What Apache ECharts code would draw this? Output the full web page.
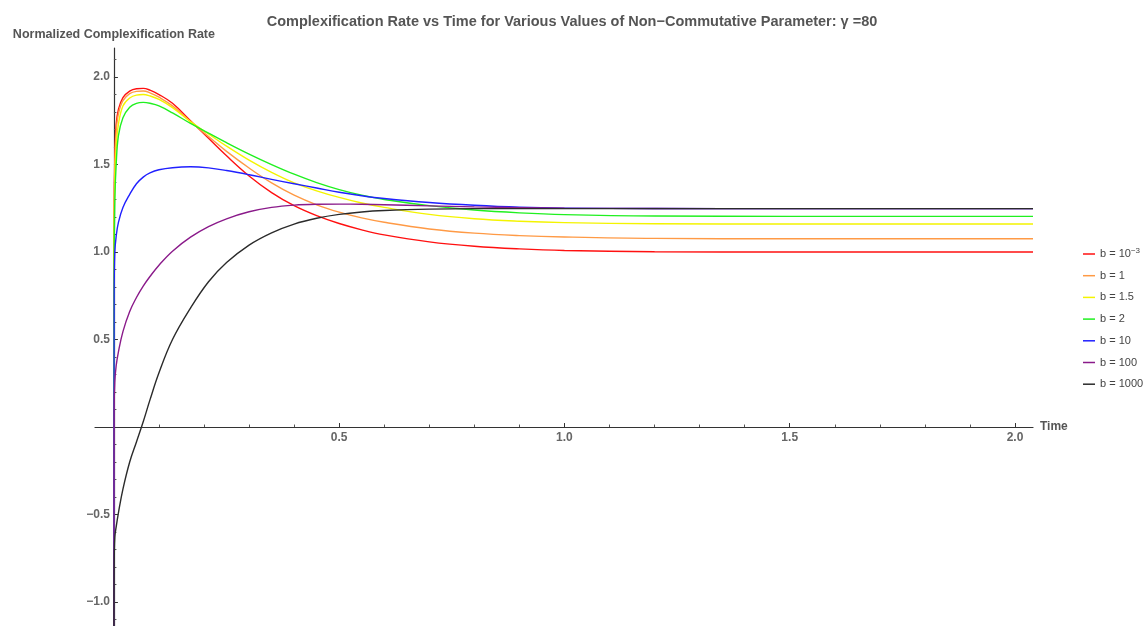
<!DOCTYPE html>
<html>
<head>
<meta charset="utf-8">
<script src="https://cdn.jsdelivr.net/npm/echarts@6/dist/echarts.min.js"></script>
<style>
  html, body { margin: 0; padding: 0; background: #fff; }
  #main { width: 1144px; height: 626px; }
</style>
</head>
<body>
<div id="main"></div>
<script>
// sample times
var times = [0, 0.0005, 0.002, 0.005, 0.01, 0.02, 0.035, 0.05, 0.065, 0.08, 0.1, 0.13, 0.17, 0.21, 0.25,
  0.3, 0.35, 0.4, 0.45, 0.5, 0.55, 0.6, 0.7, 0.8, 0.9, 1.0, 1.2, 1.5, 2.04];

var rateB0001 = [-1.3, 1.2, 1.55, 1.73, 1.815, 1.883, 1.92, 1.933, 1.935, 1.925, 1.9, 1.85, 1.75, 1.65, 1.55,
  1.435, 1.34, 1.265, 1.208, 1.163, 1.127, 1.098, 1.058, 1.033, 1.018, 1.009, 1.002, 1.0, 1.0];
var rateB1 = [-1.3, 1.15, 1.5, 1.69, 1.79, 1.865, 1.905, 1.918, 1.92, 1.91, 1.885, 1.835, 1.745, 1.66, 1.575,
  1.48, 1.395, 1.325, 1.27, 1.228, 1.195, 1.17, 1.132, 1.108, 1.094, 1.086, 1.078, 1.076, 1.076];
var rateB15 = [-1.3, 1.1, 1.42, 1.6, 1.73, 1.835, 1.88, 1.897, 1.9, 1.892, 1.872, 1.825, 1.745, 1.675, 1.605,
  1.525, 1.455, 1.395, 1.35, 1.312, 1.28, 1.255, 1.215, 1.19, 1.176, 1.168, 1.162, 1.16, 1.16];
var rateB2 = [-1.3, 0.95, 1.3, 1.5, 1.665, 1.768, 1.828, 1.85, 1.855, 1.85, 1.835, 1.795, 1.735, 1.68, 1.625,
  1.56, 1.5, 1.445, 1.397, 1.357, 1.325, 1.3, 1.265, 1.24, 1.224, 1.214, 1.206, 1.204, 1.204];
var rateB10 = [-1.3, 0.75, 1.0, 1.09, 1.17, 1.255, 1.33, 1.39, 1.428, 1.452, 1.47, 1.482, 1.487, 1.481, 1.466,
  1.442, 1.415, 1.39, 1.366, 1.342, 1.322, 1.306, 1.283, 1.267, 1.256, 1.251, 1.249, 1.248, 1.248];
var rateB100 = [-1.3, 0.1, 0.26, 0.35, 0.43, 0.545, 0.66, 0.74, 0.805, 0.86, 0.925, 1.005, 1.085, 1.145, 1.19,
  1.23, 1.255, 1.268, 1.273, 1.274, 1.273, 1.27, 1.264, 1.258, 1.254, 1.251, 1.249, 1.248, 1.248];
var rateB1000 = [-1.3, -0.8, -0.63, -0.57, -0.49, -0.355, -0.2, -0.085, 0.03, 0.155, 0.31, 0.5, 0.68, 0.83, 0.94,
  1.04, 1.11, 1.16, 1.193, 1.215, 1.229, 1.237, 1.245, 1.248, 1.248, 1.248, 1.248, 1.248, 1.248];

var seriesNames = ['b = 10^-3', 'b = 1', 'b = 1.5', 'b = 2', 'b = 10', 'b = 100', 'b = 1000'];
var seriesColors = ['#ff1010', '#ff9a45', '#f4f400', '#20f020', '#2020ff', '#8a1a8a', '#2b2b2b'];
var seriesRates = [rateB0001, rateB1, rateB15, rateB2, rateB10, rateB100, rateB1000];

// ticks
var xLabelTicks = [0.5, 1.0, 1.5, 2.0];
var xMinorTicks = [0.1, 0.2, 0.3, 0.4, 0.6, 0.7, 0.8, 0.9, 1.1, 1.2, 1.3, 1.4, 1.6, 1.7, 1.8, 1.9];
var yLabelTicks = [-1.0, -0.5, 0.5, 1.0, 1.5, 2.0];
var yMinorTicks = [-1.1, -0.9, -0.8, -0.7, -0.6, -0.4, -0.3, -0.2, -0.1, 0.1, 0.2, 0.3, 0.4, 0.6, 0.7, 0.8, 0.9,
  1.1, 1.2, 1.3, 1.4, 1.6, 1.7, 1.8, 1.9, 2.1];

var X_MIN = -0.042, X_MAX = 2.04, Y_MIN = -1.137, Y_MAX = 2.166;
var GRID_LEFT = 95, GRID_RIGHT = 111, GRID_TOP = 48, GRID_BOTTOM = 0;
var FONT = 'Liberation Sans, Arial, sans-serif';

// axes cross at the origin: move them into the grid with negative offsets
var plotW = 1144 - GRID_LEFT - GRID_RIGHT, plotH = 626 - GRID_TOP - GRID_BOTTOM;
var yAxisOffset = -(0 - X_MIN) / (X_MAX - X_MIN) * plotW;
var xAxisOffset = -(0 - Y_MIN) / (Y_MAX - Y_MIN) * plotH;

function pairs(xs, ys) {
  var out = [];
  for (var i = 0; i < xs.length; i++) out.push([xs[i], ys[i]]);
  return out;
}

var series = [];
for (var i = 0; i < seriesNames.length; i++) {
  series.push({
    name: seriesNames[i],
    type: 'line',
    data: pairs(times, seriesRates[i]),
    showSymbol: false,
    symbol: 'none',
    smooth: 0.4,
    lineStyle: { color: seriesColors[i], width: 1.4 },
    itemStyle: { color: seriesColors[i] },
    emphasis: { disabled: true },
    animation: false
  });
}

var labelStyle = { color: '#666', fontSize: 12, fontWeight: 'bold', fontFamily: FONT };

var chart = echarts.init(document.getElementById('main'));
chart.setOption({
  animation: false,
  backgroundColor: '#fff',
  title: {
    text: 'Complexification Rate vs Time for Various Values of Non\u2212Commutative Parameter: \u03b3 =80',
    left: 'center',
    top: 9,
    textStyle: { color: '#555', fontSize: 14.5, fontWeight: 'bold', fontFamily: FONT }
  },
  legend: {
    orient: 'vertical',
    left: 1078,
    top: 242,
    icon: 'rect',
    itemWidth: 12,
    itemHeight: 1.5,
    itemGap: 7.7,
    textStyle: {
      color: '#444', fontSize: 11, fontFamily: FONT, lineHeight: 14,
      rich: {
        s: { fontSize: 8, padding: [0, 0, 6, 0], color: '#444', fontFamily: FONT }
      }
    },
    formatter: function (name) {
      if (name === 'b = 10^-3') return 'b = 10{s|\u22123}';
      return name;
    },
    data: seriesNames
  },
  grid: {
    left: GRID_LEFT,
    right: GRID_RIGHT,
    top: GRID_TOP,
    bottom: GRID_BOTTOM,
    outerBoundsMode: 'none'
  },
  xAxis: [{
    type: 'value',
    min: X_MIN,
    max: X_MAX,
    position: 'bottom',
    offset: xAxisOffset,
    name: 'Time',
    nameLocation: 'end',
    nameGap: 7,
    nameTextStyle: { color: '#555', fontSize: 12, fontWeight: 'bold', fontFamily: FONT },
    axisLine: { onZero: false, lineStyle: { color: '#333', width: 1.2 } },
    axisTick: { inside: true, length: 4, customValues: xLabelTicks, lineStyle: { color: '#333' } },
    axisLabel: Object.assign({ customValues: xLabelTicks, margin: 5, formatter: function (v) { return v.toFixed(1); } }, labelStyle),
    splitLine: { show: false }
  }, {
    type: 'value',
    min: X_MIN,
    max: X_MAX,
    position: 'bottom',
    offset: xAxisOffset,
    axisLine: { show: false, onZero: false },
    axisTick: { inside: true, length: 2.5, customValues: xMinorTicks, lineStyle: { color: '#555' } },
    axisLabel: { show: false },
    splitLine: { show: false }
  }],
  yAxis: [{
    type: 'value',
    min: Y_MIN,
    max: Y_MAX,
    position: 'left',
    offset: yAxisOffset,
    name: 'Normalized Complexification Rate',
    nameLocation: 'end',
    nameGap: 7,
    nameTextStyle: { color: '#555', fontSize: 12.5, fontWeight: 'bold', fontFamily: FONT },
    axisLine: { onZero: false, lineStyle: { color: '#333', width: 1.2 } },
    axisTick: { inside: true, length: 4, customValues: yLabelTicks, lineStyle: { color: '#333' } },
    axisLabel: Object.assign({ customValues: yLabelTicks, margin: 4, formatter: function (v) { return v.toFixed(1).replace('-', '\u2212'); } }, labelStyle),
    splitLine: { show: false }
  }, {
    type: 'value',
    min: Y_MIN,
    max: Y_MAX,
    position: 'left',
    offset: yAxisOffset,
    axisLine: { show: false, onZero: false },
    axisTick: { inside: true, length: 2.5, customValues: yMinorTicks, lineStyle: { color: '#555' } },
    axisLabel: { show: false },
    splitLine: { show: false }
  }],
  series: series
});
</script>
</body>
</html>
